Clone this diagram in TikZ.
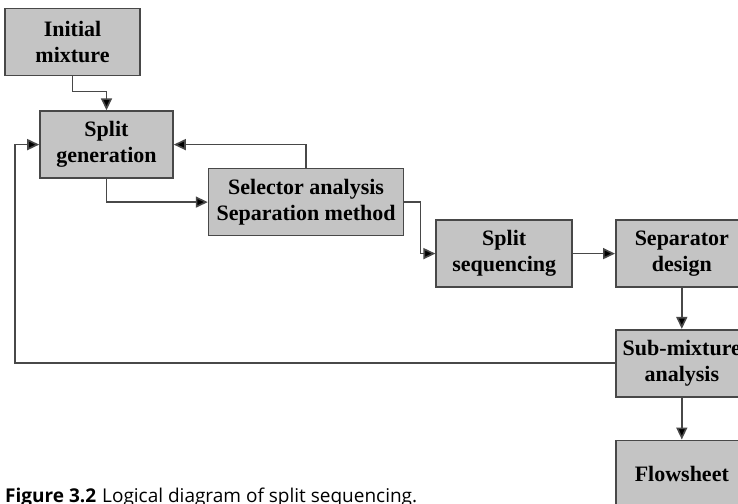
\documentclass[tikz,border=0pt]{standalone}
\usepackage{fontspec}
\setmainfont{Liberation Serif}
\newfontfamily\capfont{Open Sans}
\usepackage{tikz}
\usetikzlibrary{arrows.meta,positioning}
\definecolor{boxfill}{RGB}{196,196,196}
\definecolor{boxline}{RGB}{72,72,72}

\begin{document}
\begin{tikzpicture}[x=1pt, y=-1pt,
  font=\fontsize{22}{26}\selectfont\bfseries,
  box/.style={draw=boxline, line width=1.6pt, fill=boxfill, align=center,
              minimum height=67pt, inner sep=2pt},
  ar/.style={-{Triangle[length=12pt, width=11pt, fill=black]}, draw=boxline, line width=1.6pt}]
\clip (0,0) rectangle (738,503);

% --- top left: mixture and split generation
\node[box, minimum width=135pt] (init) at (72.5,42) {Initial\\mixture};
\node[box, minimum width=133pt, below=34pt of init, xshift=34pt] (splitgen) {Split\\generation};
\node[box, minimum width=195pt, right=34pt of splitgen, yshift=-57.5pt] (selector)
  {Selector analysis\\Separation method};

% --- sequencing, design and analysis
\node[box, minimum width=136pt, right=31pt of selector, yshift=-51.5pt] (splitseq) {Split\\sequencing};
\node[box, minimum width=132pt, right=42pt of splitseq] (sepdesign) {Separator\\design};
\node[box, minimum width=132pt, below=41pt of sepdesign] (submix) {Sub-mixture\\analysis};
\node[box, minimum width=132pt, below=42pt of submix] (flowsheet) {Flowsheet};
\coordinate (loop) at (15,0);

\node[anchor=base west, inner sep=0pt, font=\capfont\fontsize{19}{22}\selectfont] (caption)
  at (5,502) {\textbf{Figure 3.2}\hspace{6pt}Logical diagram of split sequencing.};

\draw[ar] (init.south) -- ++(0,15) -| (splitgen.north);
\draw[ar] (splitgen.south) |- (selector.west);
\draw[ar] (selector.north) |- (splitgen.east);
\draw[ar] (selector.east) -- ++(16,0) |- (splitseq.west);
\draw[ar] (splitseq) -- (sepdesign);
\draw[ar] (sepdesign) -- (submix);
\draw[ar] (submix) -- (flowsheet);
\draw[ar] (submix.west) -- (submix.west -| loop) |- (splitgen.west);
\end{tikzpicture}
\end{document}
